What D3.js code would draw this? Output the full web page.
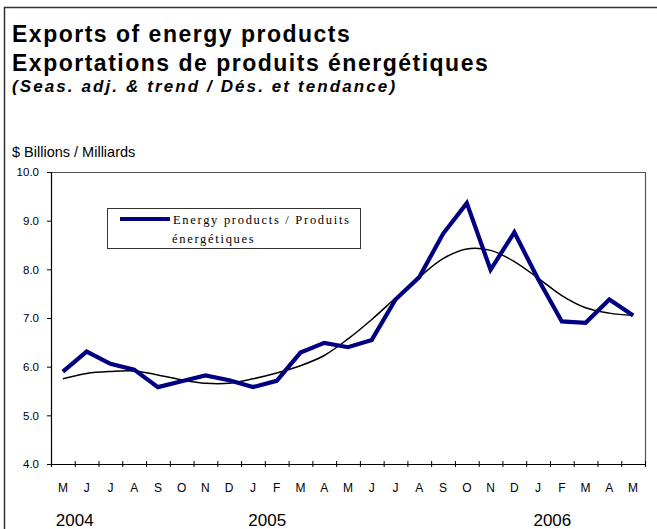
<!DOCTYPE html>
<html>
<head>
<meta charset="utf-8">
<script src="https://cdn.jsdelivr.net/npm/d3@7"></script>
<style>
  body { margin: 0; background: #fff; }
  svg text { font-family: Arial, "Liberation Sans", sans-serif; fill: #000; }
</style>
</head>
<body>
<div id="chart"></div>
<script>
// months May 2004 .. May 2006
var months = ["M","J","J","A","S","O","N","D","J","F","M","A","M","J","J","A","S","O","N","D","J","F","M","A","M"];
var energy = [5.90,6.31,6.06,5.94,5.58,5.70,5.82,5.72,5.58,5.71,6.29,6.49,6.40,6.55,7.38,7.84,8.73,9.36,7.99,8.76,7.80,6.93,6.90,7.38,7.05];
var trend  = [5.75,5.86,5.90,5.91,5.83,5.73,5.66,5.66,5.75,5.87,6.02,6.23,6.57,6.97,7.41,7.84,8.22,8.42,8.39,8.16,7.82,7.46,7.21,7.10,7.05];
var yTicks = [4,5,6,7,8,9,10];
var years = [["2004", 1.0], ["2005", 9.1], ["2006", 21.1]];

var width = 657, height = 529;

var svg = d3.select("#chart").append("svg")
    .attr("width", width)
    .attr("height", height);

// outer frame
svg.append("path")
    .attr("d", "M4.5,540 V7.5 H670")
    .attr("fill", "none")
    .attr("stroke", "#333")
    .attr("stroke-width", 1.5);

// titles
svg.append("text").attr("x", 12).attr("y", 42)
    .style("font-size", "23px").style("font-weight", "bold").style("letter-spacing", "1.5px")
    .text("Exports of energy products");
svg.append("text").attr("x", 12).attr("y", 71)
    .style("font-size", "23px").style("font-weight", "bold").style("letter-spacing", "1.5px")
    .text("Exportations de produits énergétiques");
svg.append("text").attr("x", 12).attr("y", 92)
    .style("font-size", "17px").style("font-weight", "bold").style("font-style", "italic").style("letter-spacing", "2.1px")
    .text("(Seas. adj. & trend / Dés. et tendance)");
svg.append("text").attr("x", 12).attr("y", 157)
    .style("font-size", "14.5px")
    .text("$ Billions / Milliards");

var x0 = 51, x1 = 645, yTop = 172, yBot = 464;

var xEdge = d3.scaleLinear().domain([0, months.length]).range([x0, x1]);
var x = i => xEdge(i + 0.5);
var y = d3.scaleLinear().domain([4, 10]).range([yBot, yTop]);

// plot frame (top + right)
svg.append("path")
    .attr("d", `M${x0},${yTop + 0.5} H${x1 + 0.5} V${yBot}`)
    .attr("fill", "none")
    .attr("stroke", "#555")
    .attr("stroke-width", 1.2);

// y axis
var yAxis = svg.append("g")
    .attr("transform", `translate(${x0},0)`)
    .call(d3.axisLeft(y).tickValues(yTicks).tickFormat(d3.format(".1f")).tickSize(4).tickPadding(8));
yAxis.select(".domain").attr("stroke", "#000").attr("stroke-width", 1.2);
yAxis.selectAll("text").style("font-size", "11.5px").attr("font-family", null);

// x axis, ticks at month boundaries crossing the axis
var xAxis = svg.append("g")
    .attr("transform", `translate(0,${yBot})`)
    .call(d3.axisBottom(xEdge).tickValues(d3.range(months.length + 1)).tickSize(3).tickFormat(""));
xAxis.selectAll(".tick line").attr("y1", -3);
xAxis.select(".domain").attr("stroke", "#000").attr("stroke-width", 1.2);

svg.append("g").selectAll("text")
    .data(months)
    .join("text")
    .attr("x", (d, i) => x(i))
    .attr("y", 492)
    .attr("text-anchor", "middle")
    .style("font-size", "12px")
    .text(d => d);

svg.append("g").selectAll("text")
    .data(years)
    .join("text")
    .attr("x", d => xEdge(d[1]))
    .attr("y", 526)
    .attr("text-anchor", "middle")
    .style("font-size", "17px")
    .text(d => d[0]);

// series
var energyLine = d3.line().x((d, i) => x(i)).y(d => y(d));
var trendLine = d3.line().x((d, i) => x(i)).y(d => y(d)).curve(d3.curveCatmullRom.alpha(0.5));

svg.append("path")
    .datum(trend)
    .attr("fill", "none")
    .attr("stroke", "#000")
    .attr("stroke-width", 1.5)
    .attr("d", trendLine);

svg.append("path")
    .datum(energy)
    .attr("fill", "none")
    .attr("stroke", "#000080")
    .attr("stroke-width", 4.2)
    .attr("stroke-linejoin", "miter")
    .attr("d", energyLine);

// legend
var legend = svg.append("g");
legend.append("rect")
    .attr("x", 107.5).attr("y", 208.5)
    .attr("width", 253).attr("height", 40)
    .attr("fill", "#fff").attr("stroke", "#333").attr("stroke-width", 1);
legend.append("line")
    .attr("x1", 120).attr("x2", 170).attr("y1", 219).attr("y2", 219)
    .attr("stroke", "#000080").attr("stroke-width", 4.2);
legend.append("text").attr("x", 173).attr("y", 224)
    .style("font-family", "'Liberation Serif', 'Times New Roman', serif")
    .style("font-size", "12.5px").style("letter-spacing", "1.7px")
    .text("Energy products / Produits");
legend.append("text").attr("x", 172).attr("y", 243)
    .style("font-family", "'Liberation Serif', 'Times New Roman', serif")
    .style("font-size", "12.5px").style("letter-spacing", "1.7px")
    .text("énergétiques");
</script>
</body>
</html>
